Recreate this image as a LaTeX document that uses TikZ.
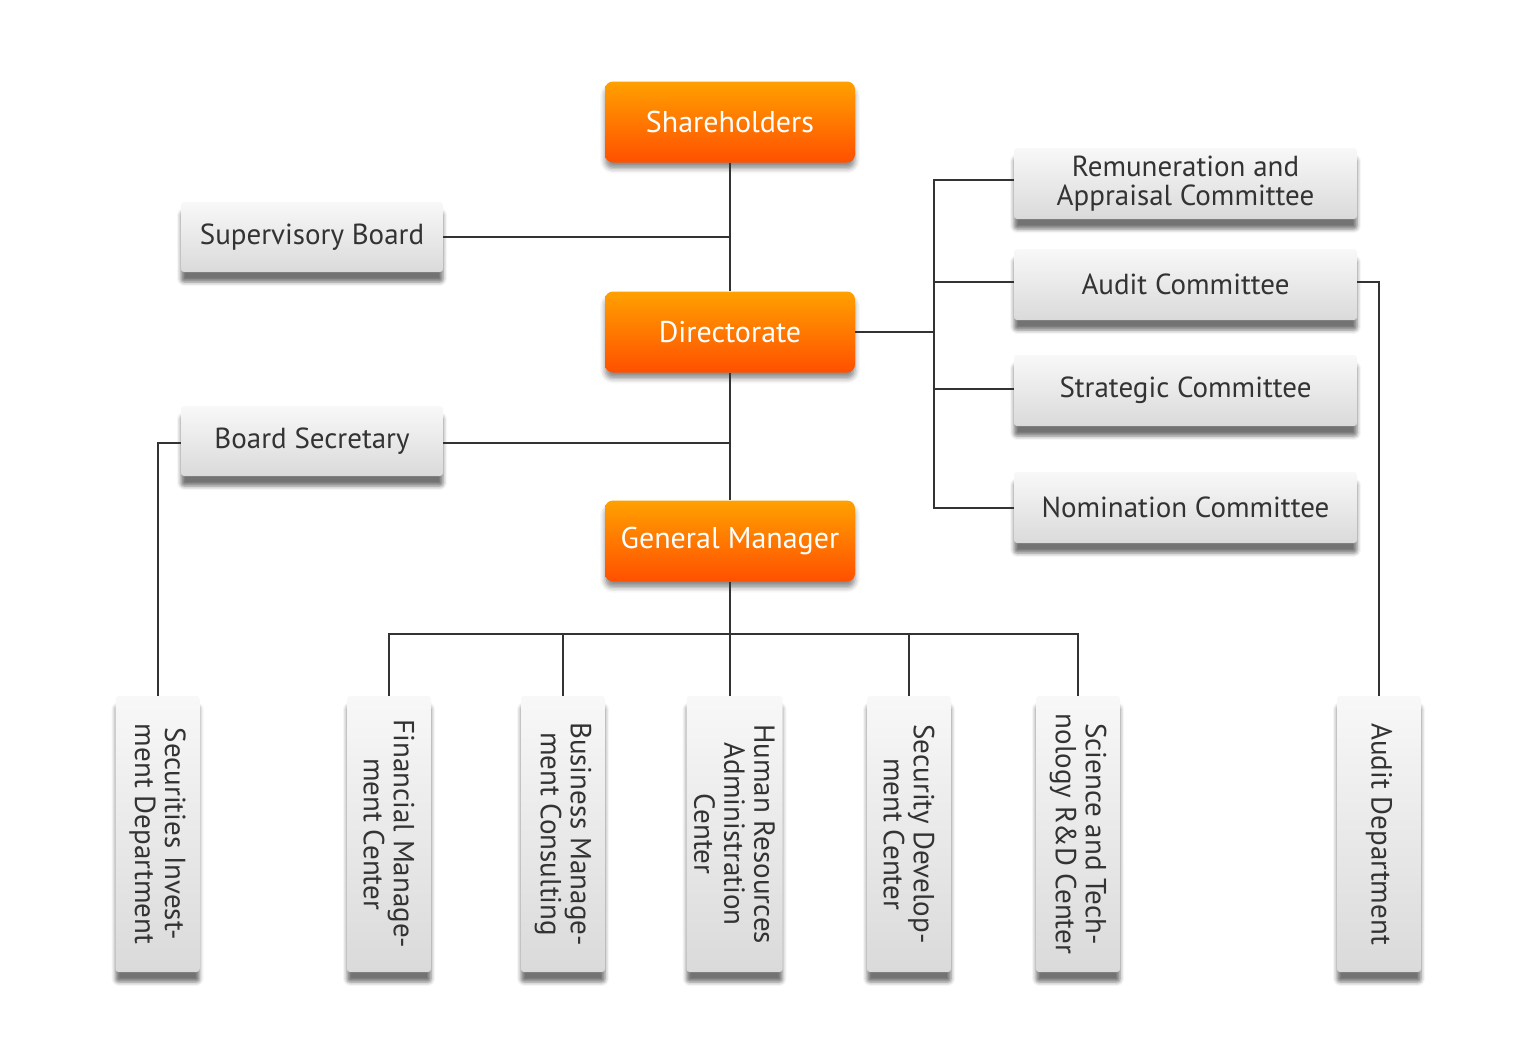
\documentclass[tikz,border=0pt]{standalone}
\usepackage{fontspec}
\setmainfont{PT Sans}
\usetikzlibrary{shadows.blur}
\definecolor{otop}{HTML}{FFA100}
\definecolor{obot}{HTML}{FF4F00}
\definecolor{gtop}{HTML}{F8F8F8}
\definecolor{gbot}{HTML}{DADADA}
\definecolor{txt}{HTML}{333333}
\definecolor{ln}{HTML}{333333}
\tikzset{
  obox/.style={rectangle, rounded corners=8pt, top color=otop, bottom color=obot, draw=none,
    minimum width=250pt, minimum height=81pt, text=white, font=\fontsize{30}{30}\selectfont,
    blur shadow={shadow xshift=0pt, shadow yshift=-6pt, shadow blur radius=5pt, shadow opacity=45}},
  gbox/.style={rectangle, rounded corners=3pt, top color=gtop, bottom color=gbot, draw=none,
    text=txt, font=\fontsize{29}{29}\selectfont, align=center,
    blur shadow={shadow xshift=0pt, shadow yshift=-10pt, shadow blur radius=4pt, shadow opacity=55}},
  vbox/.style={gbox, minimum width=84pt, minimum height=276pt},
  vtext/.style={rotate=-90, align=center, text=txt, font=\fontsize{29}{30}\selectfont},
  conn/.style={draw=ln, line width=2pt}
}
\begin{document}
\begin{tikzpicture}[x=1pt,y=-1pt]
\useasboundingbox (0,0) rectangle (1539,1052);
% orange boxes
\node[obox] (sh) at (730,122) {Shareholders};
\node[obox] (dir) at (730,332) {Directorate};
\node[obox] (gm) at (730,541) {General Manager};
% left boxes
\node[gbox, minimum width=262pt, minimum height=70pt] (sup) at (312,237) {Supervisory Board};
\node[gbox, minimum width=262pt, minimum height=70pt] (sec) at (312,441) {Board Secretary};
% committees
\node[gbox, minimum width=343pt, minimum height=71pt] (rem) at (1185.5,183.5) {Remuneration and\\Appraisal Committee};
\node[gbox, minimum width=343pt, minimum height=71pt] (aud) at (1185.5,284.5) {Audit Committee};
\node[gbox, minimum width=343pt, minimum height=71pt] (str) at (1185.5,390.5) {Strategic Committee};
\node[gbox, minimum width=343pt, minimum height=71pt] (nom) at (1185.5,507.5) {Nomination Committee};
% vertical boxes
\node[vbox] (secdep) at (157.5,834) {};
\node[vtext] at (secdep) {Securities Invest-\\ment Department};
\node[vbox] (fin) at (389,834) {};
\node[vtext] at (fin) {Financial Manage-\\ment Center};
\node[vbox] (bmc) at (563,834) {};
\node[vtext] at (bmc) {Business Manage-\\ment Consulting};
\node[vbox, minimum width=96pt] (hr) at (734.5,834) {};
\node[vtext] at (hr) {Human Resources\\Administration\\Center};
\node[vbox] (sd) at (909,834) {};
\node[vtext] at (sd) {Security Develop-\\ment Center};
\node[vbox] (sci) at (1078,834) {};
\node[vtext] at (sci) {Science and Tech-\\nology R\&D Center};
\node[vbox] (auddep) at (1379,834) {};
\node[vtext] at (auddep) {Audit Department};
% connectors
\coordinate (cbus) at (934,0);
\coordinate (gbus) at (0,634);
\coordinate (remc) at ([yshift=3.5pt]rem.west);
\coordinate (audc) at ([yshift=2.5pt]aud.west);
\coordinate (audr) at ([yshift=2.5pt]aud.east);
\coordinate (strc) at ([yshift=1.5pt]str.west);
\coordinate (secc) at ([yshift=-2pt]sec.east);
\coordinate (secl) at ([yshift=-2pt]sec.west);
\draw[conn] (sh.south) -- (dir.north);
\draw[conn] (dir.south) -- (gm.north);
\draw[conn] (sup.east) -- (sup.east -| sh.south);
\draw[conn] (secc) -- (secc -| dir.south);
\draw[conn] (secl) -- (secl -| secdep.north) -- (secdep.north);
\draw[conn] (dir.east) -- (dir.east -| cbus);
\draw[conn] (remc) -- (remc -| cbus) -- (nom.west -| cbus) -- (nom.west);
\draw[conn] (audc) -- (audc -| cbus);
\draw[conn] (strc) -- (strc -| cbus);
\draw[conn] (audr) -- (audr -| auddep.north) -- (auddep.north);
\draw[conn] (gm.south) -- (gm.south |- hr.north);
\draw[conn] (fin.north) -- (fin.north |- gbus) -- (sci.north |- gbus) -- (sci.north);
\draw[conn] (bmc.north) -- (bmc.north |- gbus);
\draw[conn] (sd.north) -- (sd.north |- gbus);
\end{tikzpicture}
\end{document}
